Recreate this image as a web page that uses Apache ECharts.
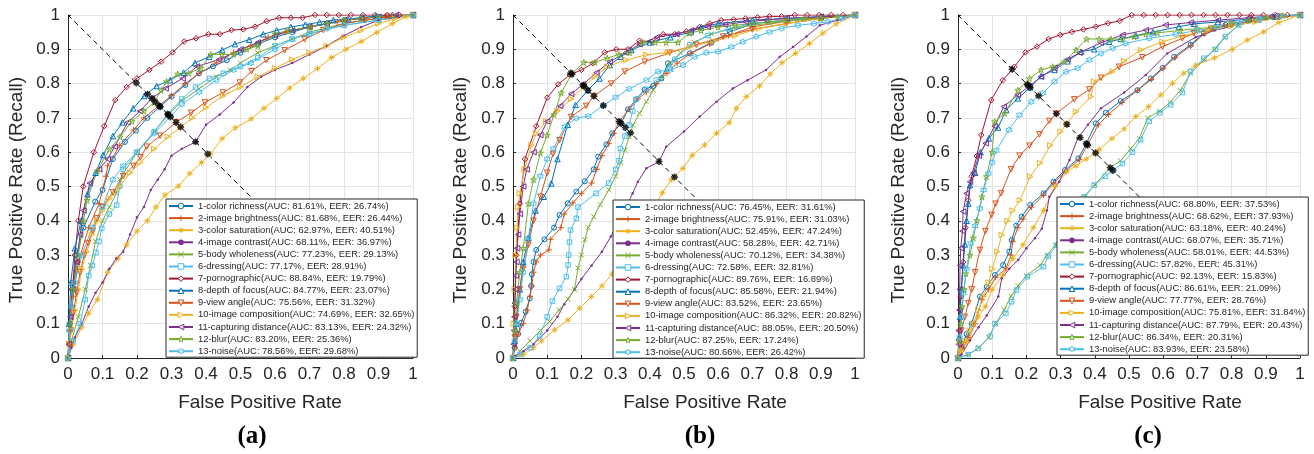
<!DOCTYPE html>
<html><head><meta charset="utf-8">
<script src="https://cdn.jsdelivr.net/npm/echarts@6/dist/echarts.min.js"></script>
<style>html,body{margin:0;padding:0;background:#fff}#c{width:1314px;height:454px}</style>
</head><body><div id="c"></div>
<script>
// ---------- DATA ----------
const featureNames = ['color richness','image brightness','color saturation','image contrast','body wholeness','dressing','pornographic','depth of focus','view angle','image composition','capturing distance','blur','noise'];
const xTicks = [0,0.1,0.2,0.3,0.4,0.5,0.6,0.7,0.8,0.9,1];
const panelLabels = ['(a)','(b)','(c)'];

const aucA = [81.61,81.68,62.97,68.11,77.23,77.17,88.84,84.77,75.56,74.69,83.13,83.20,78.56];
const eerA = [26.74,26.44,40.51,36.97,29.13,28.91,19.79,23.07,31.32,32.65,24.32,25.36,29.68];
const aucB = [76.45,75.91,52.45,58.28,70.12,72.58,89.76,85.58,83.52,86.32,88.05,87.25,80.66];
const eerB = [31.61,31.03,47.24,42.71,34.38,32.81,16.89,21.94,23.65,20.82,20.50,17.24,26.42];
const aucC = [68.80,68.62,63.18,68.07,58.01,57.82,92.13,86.61,77.77,75.81,87.79,86.34,83.93];
const eerC = [37.53,37.93,40.24,35.71,44.53,45.31,15.83,21.09,28.76,31.84,20.43,20.31,23.58];

// Panel (a) ROC points [FPR, TPR]
const a1 = [[0,0],[0.005,0.1],[0.012,0.2],[0.025,0.3],[0.045,0.38],[0.079,0.456],[0.1,0.49],[0.13,0.58],[0.165,0.63],[0.197,0.663],[0.23,0.7],[0.267,0.733],[0.3,0.762],[0.34,0.796],[0.38,0.83],[0.42,0.85],[0.46,0.868],[0.5,0.89],[0.55,0.915],[0.6,0.935],[0.65,0.95],[0.7,0.965],[0.75,0.975],[0.8,0.985],[0.85,0.99],[0.9,0.995],[1,1]];
const a2 = [[0,0],[0.005,0.08],[0.015,0.18],[0.03,0.28],[0.06,0.38],[0.09,0.45],[0.11,0.53],[0.115,0.56],[0.15,0.62],[0.19,0.665],[0.22,0.7],[0.264,0.736],[0.3,0.765],[0.34,0.8],[0.38,0.83],[0.43,0.86],[0.48,0.89],[0.53,0.91],[0.58,0.935],[0.63,0.95],[0.7,0.965],[0.78,0.98],[0.85,0.99],[0.92,0.995],[1,1]];
const a3 = [[0,0],[0.015,0.04],[0.04,0.09],[0.06,0.13],[0.085,0.17],[0.115,0.25],[0.145,0.29],[0.17,0.33],[0.2,0.37],[0.23,0.4],[0.255,0.44],[0.281,0.475],[0.32,0.501],[0.353,0.538],[0.387,0.57],[0.413,0.595],[0.447,0.64],[0.485,0.671],[0.531,0.697],[0.568,0.728],[0.605,0.757],[0.642,0.787],[0.682,0.815],[0.723,0.844],[0.764,0.876],[0.806,0.9],[0.851,0.923],[0.895,0.949],[0.94,0.975],[0.98,0.995],[1,1]];
const a4 = [[0,0],[0.01,0.03],[0.02,0.06],[0.04,0.1],[0.06,0.15],[0.08,0.19],[0.1,0.22],[0.12,0.26],[0.14,0.29],[0.16,0.31],[0.18,0.36],[0.2,0.41],[0.22,0.44],[0.24,0.49],[0.26,0.52],[0.28,0.55],[0.3,0.59],[0.33,0.61],[0.37,0.63],[0.4,0.68],[0.44,0.71],[0.48,0.745],[0.52,0.79],[0.56,0.82],[0.6,0.84],[0.65,0.86],[0.7,0.885],[0.75,0.91],[0.8,0.94],[0.85,0.965],[0.9,0.985],[0.95,0.995],[1,1]];
const a5 = [[0,0],[0.01,0.05],[0.03,0.12],[0.05,0.2],[0.065,0.27],[0.08,0.34],[0.1,0.4],[0.12,0.44],[0.14,0.48],[0.15,0.52],[0.2,0.6],[0.25,0.66],[0.291,0.709],[0.33,0.75],[0.38,0.785],[0.43,0.82],[0.47,0.84],[0.5,0.86],[0.55,0.89],[0.6,0.91],[0.65,0.93],[0.7,0.95],[0.8,0.975],[0.9,0.99],[1,1]];
const a6 = [[0,0],[0.015,0.05],[0.035,0.1],[0.05,0.17],[0.06,0.24],[0.071,0.27],[0.081,0.307],[0.09,0.34],[0.098,0.378],[0.12,0.42],[0.141,0.446],[0.15,0.5],[0.16,0.55],[0.2,0.6],[0.25,0.66],[0.289,0.711],[0.33,0.755],[0.37,0.79],[0.41,0.815],[0.45,0.83],[0.5,0.85],[0.55,0.875],[0.6,0.91],[0.65,0.93],[0.7,0.945],[0.8,0.97],[0.9,0.985],[1,1]];
const a7 = [[0,0],[0.003,0.04],[0.005,0.08],[0.01,0.15],[0.015,0.22],[0.02,0.3],[0.03,0.4],[0.044,0.5],[0.075,0.6],[0.105,0.676],[0.137,0.752],[0.17,0.79],[0.2,0.815],[0.236,0.84],[0.27,0.864],[0.303,0.891],[0.337,0.923],[0.371,0.932],[0.407,0.944],[0.44,0.944],[0.474,0.956],[0.508,0.958],[0.542,0.966],[0.576,0.982],[0.612,0.992],[0.646,0.992],[0.68,0.992],[0.716,1],[0.75,1],[0.785,1],[0.82,1],[0.855,1],[0.89,1],[0.925,1],[0.96,1],[1,1]];
const a8 = [[0,0],[0.003,0.1],[0.008,0.22],[0.02,0.32],[0.038,0.4],[0.056,0.477],[0.08,0.54],[0.102,0.592],[0.13,0.647],[0.158,0.687],[0.189,0.728],[0.221,0.764],[0.257,0.793],[0.296,0.81],[0.335,0.832],[0.368,0.86],[0.409,0.878],[0.447,0.898],[0.484,0.915],[0.525,0.928],[0.566,0.944],[0.605,0.955],[0.646,0.965],[0.688,0.972],[0.729,0.979],[0.769,0.985],[0.812,0.988],[0.853,0.993],[0.893,0.997],[0.94,1],[1,1]];
const a9 = [[0,0],[0.003,0.04],[0.008,0.08],[0.015,0.13],[0.025,0.19],[0.035,0.25],[0.047,0.3],[0.058,0.335],[0.072,0.37],[0.084,0.407],[0.1,0.44],[0.13,0.483],[0.16,0.53],[0.19,0.56],[0.21,0.585],[0.228,0.616],[0.267,0.648],[0.313,0.687],[0.357,0.715],[0.397,0.745],[0.449,0.774],[0.498,0.803],[0.532,0.836],[0.575,0.868],[0.628,0.897],[0.686,0.929],[0.74,0.956],[0.8,0.975],[0.86,0.985],[0.93,0.995],[1,1]];
const a10 = [[0,0],[0.005,0.04],[0.01,0.08],[0.02,0.14],[0.03,0.2],[0.04,0.26],[0.055,0.31],[0.07,0.36],[0.085,0.4],[0.1,0.43],[0.12,0.465],[0.15,0.5],[0.18,0.54],[0.21,0.57],[0.25,0.61],[0.29,0.645],[0.327,0.673],[0.36,0.7],[0.4,0.73],[0.45,0.765],[0.5,0.79],[0.55,0.82],[0.6,0.845],[0.65,0.87],[0.7,0.89],[0.75,0.91],[0.8,0.935],[0.85,0.955],[0.9,0.975],[0.95,0.99],[1,1]];
const a11 = [[0,0],[0.003,0.04],[0.007,0.12],[0.015,0.2],[0.025,0.28],[0.035,0.36],[0.045,0.43],[0.063,0.51],[0.09,0.55],[0.115,0.58],[0.135,0.616],[0.173,0.687],[0.209,0.72],[0.243,0.757],[0.283,0.786],[0.332,0.815],[0.374,0.85],[0.438,0.87],[0.5,0.9],[0.55,0.92],[0.6,0.94],[0.65,0.955],[0.7,0.965],[0.75,0.975],[0.8,0.985],[0.85,0.99],[0.9,0.995],[0.95,1],[1,1]];
const a12 = [[0,0],[0.005,0.1],[0.015,0.2],[0.03,0.3],[0.045,0.4],[0.055,0.46],[0.085,0.546],[0.12,0.608],[0.151,0.645],[0.185,0.69],[0.22,0.72],[0.25,0.745],[0.27,0.78],[0.286,0.806],[0.318,0.828],[0.35,0.83],[0.385,0.845],[0.414,0.885],[0.446,0.885],[0.48,0.885],[0.518,0.9],[0.55,0.91],[0.6,0.945],[0.64,0.955],[0.7,0.965],[0.75,0.975],[0.8,0.985],[0.85,0.99],[0.9,0.995],[1,1]];
const a13 = [[0,0],[0.005,0.08],[0.01,0.15],[0.02,0.22],[0.04,0.3],[0.07,0.38],[0.1,0.44],[0.13,0.52],[0.16,0.56],[0.2,0.6],[0.25,0.655],[0.297,0.703],[0.33,0.74],[0.38,0.775],[0.43,0.81],[0.48,0.84],[0.53,0.86],[0.6,0.9],[0.65,0.93],[0.7,0.945],[0.75,0.96],[0.8,0.97],[0.9,0.985],[1,1]];

// Panel (b)
const b1 = [[0,0],[0.005,0.03],[0.015,0.07],[0.024,0.103],[0.037,0.135],[0.049,0.174],[0.053,0.21],[0.055,0.244],[0.06,0.28],[0.068,0.315],[0.092,0.346],[0.12,0.38],[0.136,0.417],[0.16,0.451],[0.185,0.485],[0.21,0.515],[0.236,0.55],[0.249,0.587],[0.273,0.623],[0.29,0.655],[0.316,0.684],[0.336,0.725],[0.36,0.754],[0.385,0.783],[0.41,0.793],[0.434,0.815],[0.453,0.859],[0.517,0.888],[0.58,0.919],[0.634,0.951],[0.702,0.975],[0.8,0.985],[0.9,0.993],[1,1]];
const b2 = [[0,0],[0.005,0.03],[0.015,0.07],[0.03,0.1],[0.042,0.14],[0.05,0.18],[0.055,0.21],[0.06,0.25],[0.068,0.28],[0.08,0.3],[0.105,0.315],[0.11,0.346],[0.14,0.38],[0.15,0.42],[0.175,0.452],[0.2,0.48],[0.23,0.51],[0.245,0.55],[0.26,0.59],[0.28,0.625],[0.295,0.655],[0.31,0.69],[0.34,0.725],[0.365,0.755],[0.39,0.775],[0.42,0.8],[0.45,0.83],[0.48,0.86],[0.52,0.888],[0.575,0.915],[0.63,0.94],[0.7,0.965],[0.8,0.982],[0.9,0.993],[1,1]];
const b3 = [[0,0],[0.03,0.01],[0.06,0.03],[0.083,0.05],[0.122,0.082],[0.161,0.111],[0.195,0.145],[0.229,0.179],[0.26,0.21],[0.29,0.245],[0.32,0.29],[0.345,0.33],[0.37,0.37],[0.395,0.41],[0.415,0.445],[0.437,0.482],[0.463,0.52],[0.497,0.553],[0.524,0.591],[0.56,0.621],[0.595,0.655],[0.632,0.686],[0.653,0.728],[0.682,0.762],[0.721,0.793],[0.752,0.828],[0.787,0.861],[0.826,0.888],[0.867,0.917],[0.906,0.947],[0.945,0.974],[1,1]];
const b4 = [[0,0],[0.03,0.02],[0.06,0.04],[0.1,0.08],[0.13,0.12],[0.15,0.157],[0.18,0.2],[0.2,0.23],[0.23,0.27],[0.26,0.31],[0.286,0.354],[0.31,0.4],[0.33,0.44],[0.35,0.48],[0.365,0.514],[0.39,0.553],[0.427,0.573],[0.448,0.616],[0.5,0.66],[0.546,0.704],[0.595,0.747],[0.643,0.786],[0.686,0.81],[0.74,0.84],[0.78,0.878],[0.819,0.907],[0.858,0.937],[0.897,0.97],[0.95,0.985],[1,1]];
const b5 = [[0,0],[0.02,0.02],[0.05,0.05],[0.08,0.08],[0.107,0.106],[0.135,0.14],[0.161,0.172],[0.18,0.2],[0.19,0.263],[0.2,0.3],[0.21,0.345],[0.22,0.38],[0.236,0.412],[0.255,0.447],[0.28,0.49],[0.3,0.53],[0.315,0.57],[0.327,0.606],[0.34,0.645],[0.351,0.679],[0.37,0.713],[0.39,0.747],[0.41,0.781],[0.434,0.815],[0.46,0.86],[0.49,0.89],[0.53,0.92],[0.58,0.945],[0.64,0.96],[0.7,0.97],[0.8,0.982],[0.9,0.99],[1,1]];
const b6 = [[0,0],[0.02,0.01],[0.05,0.03],[0.078,0.064],[0.1,0.12],[0.115,0.166],[0.136,0.203],[0.156,0.237],[0.161,0.271],[0.163,0.3],[0.165,0.338],[0.168,0.373],[0.185,0.407],[0.19,0.44],[0.243,0.48],[0.28,0.51],[0.3,0.55],[0.31,0.575],[0.314,0.611],[0.327,0.647],[0.339,0.679],[0.35,0.72],[0.36,0.754],[0.39,0.783],[0.419,0.81],[0.458,0.845],[0.473,0.871],[0.517,0.913],[0.57,0.94],[0.63,0.96],[0.7,0.975],[0.8,0.985],[0.9,0.993],[1,1]];
const b7 = [[0,0],[0.005,0.15],[0.01,0.3],[0.02,0.45],[0.035,0.58],[0.068,0.676],[0.1,0.759],[0.132,0.798],[0.166,0.825],[0.2,0.84],[0.234,0.859],[0.268,0.891],[0.302,0.9],[0.336,0.9],[0.37,0.925],[0.406,0.922],[0.439,0.944],[0.473,0.944],[0.507,0.952],[0.545,0.965],[0.575,0.975],[0.609,0.985],[0.645,0.987],[0.68,0.99],[0.715,0.993],[0.75,0.996],[0.785,0.996],[0.824,1],[0.86,1],[0.895,1],[0.93,1],[0.965,1],[1,1]];
const b8 = [[0,0],[0.005,0.05],[0.01,0.1],[0.02,0.2],[0.03,0.28],[0.045,0.35],[0.066,0.43],[0.09,0.47],[0.112,0.509],[0.13,0.58],[0.16,0.68],[0.183,0.738],[0.219,0.781],[0.253,0.815],[0.283,0.854],[0.315,0.878],[0.346,0.898],[0.4,0.92],[0.46,0.935],[0.52,0.95],[0.55,0.965],[0.6,0.975],[0.7,0.985],[0.8,0.99],[0.9,0.995],[1,1]];
const b9 = [[0,0],[0.005,0.06],[0.01,0.12],[0.02,0.2],[0.03,0.26],[0.045,0.33],[0.06,0.4],[0.08,0.47],[0.1,0.54],[0.117,0.595],[0.136,0.635],[0.17,0.703],[0.214,0.735],[0.2365,0.7635],[0.287,0.8],[0.327,0.835],[0.385,0.864],[0.458,0.89],[0.536,0.913],[0.614,0.937],[0.7,0.958],[0.8,0.975],[0.9,0.99],[1,1]];
const b10 = [[0,0],[0.002,0.1],[0.005,0.2],[0.008,0.3],[0.012,0.38],[0.015,0.44],[0.02,0.48],[0.034,0.55],[0.054,0.62],[0.068,0.655],[0.097,0.69],[0.13,0.72],[0.17,0.755],[0.208,0.792],[0.24,0.82],[0.275,0.849],[0.331,0.869],[0.39,0.884],[0.453,0.891],[0.517,0.907],[0.585,0.924],[0.65,0.94],[0.72,0.961],[0.8,0.975],[0.9,0.99],[1,1]];
const b11 = [[0,0],[0.002,0.04],[0.003,0.08],[0.004,0.12],[0.005,0.16],[0.007,0.2],[0.008,0.24],[0.01,0.28],[0.012,0.32],[0.015,0.36],[0.02,0.42],[0.03,0.5],[0.04,0.55],[0.06,0.6],[0.08,0.65],[0.1,0.69],[0.138,0.735],[0.17,0.77],[0.205,0.798],[0.244,0.832],[0.283,0.864],[0.33,0.89],[0.37,0.915],[0.42,0.935],[0.478,0.944],[0.52,0.955],[0.57,0.965],[0.62,0.972],[0.68,0.98],[0.74,0.985],[0.8,0.99],[0.9,0.995],[1,1]];
const b12 = [[0,0],[0.005,0.08],[0.01,0.16],[0.02,0.25],[0.03,0.32],[0.045,0.45],[0.06,0.52],[0.08,0.598],[0.1,0.65],[0.12,0.71],[0.141,0.773],[0.172,0.828],[0.207,0.862],[0.239,0.862],[0.275,0.874],[0.31,0.885],[0.341,0.89],[0.38,0.92],[0.416,0.92],[0.448,0.92],[0.482,0.92],[0.516,0.947],[0.55,0.955],[0.6,0.965],[0.65,0.97],[0.7,0.975],[0.75,0.98],[0.8,0.985],[0.85,0.99],[0.9,0.99],[0.95,0.995],[1,1]];
const b13 = [[0,0],[0.005,0.05],[0.01,0.1],[0.02,0.17],[0.03,0.25],[0.045,0.35],[0.06,0.45],[0.08,0.53],[0.1,0.58],[0.118,0.61],[0.151,0.674],[0.185,0.699],[0.22,0.705],[0.264,0.736],[0.3,0.76],[0.34,0.785],[0.39,0.81],[0.424,0.835],[0.46,0.84],[0.497,0.854],[0.531,0.878],[0.565,0.89],[0.6,0.893],[0.638,0.907],[0.672,0.922],[0.711,0.937],[0.75,0.95],[0.785,0.961],[0.833,0.97],[0.88,0.975],[0.92,0.98],[0.96,0.99],[1,1]];

// Panel (c)
const c1 = [[0,0],[0.01,0.03],[0.025,0.07],[0.04,0.1],[0.064,0.179],[0.084,0.208],[0.108,0.242],[0.132,0.271],[0.15,0.31],[0.157,0.344],[0.17,0.386],[0.186,0.412],[0.211,0.446],[0.25,0.48],[0.279,0.514],[0.313,0.548],[0.352,0.582],[0.375,0.625],[0.403,0.684],[0.432,0.715],[0.476,0.749],[0.525,0.781],[0.564,0.815],[0.598,0.846],[0.632,0.878],[0.68,0.913],[0.719,0.947],[0.782,0.971],[0.85,0.985],[0.92,0.995],[1,1]];
const c2 = [[0,0],[0.015,0.03],[0.03,0.06],[0.05,0.1],[0.07,0.17],[0.09,0.2],[0.11,0.235],[0.14,0.26],[0.155,0.3],[0.16,0.34],[0.175,0.38],[0.19,0.405],[0.215,0.44],[0.25,0.475],[0.28,0.51],[0.315,0.545],[0.355,0.578],[0.379,0.621],[0.41,0.68],[0.44,0.71],[0.48,0.745],[0.525,0.78],[0.565,0.812],[0.6,0.845],[0.635,0.876],[0.68,0.91],[0.72,0.945],[0.78,0.97],[0.85,0.985],[0.92,0.995],[1,1]];
const c3 = [[0,0],[0.01,0.02],[0.03,0.05],[0.059,0.12],[0.08,0.15],[0.1,0.2],[0.13,0.24],[0.16,0.29],[0.19,0.33],[0.22,0.38],[0.25,0.43],[0.284,0.5],[0.318,0.543],[0.345,0.56],[0.375,0.58],[0.402,0.598],[0.413,0.608],[0.45,0.64],[0.486,0.668],[0.52,0.704],[0.557,0.733],[0.593,0.767],[0.627,0.801],[0.66,0.83],[0.695,0.854],[0.75,0.875],[0.802,0.9],[0.846,0.927],[0.894,0.951],[0.938,0.978],[1,1]];
const c4 = [[0,0],[0.01,0.01],[0.035,0.052],[0.06,0.09],[0.084,0.124],[0.118,0.179],[0.128,0.232],[0.15,0.26],[0.176,0.286],[0.2,0.32],[0.225,0.349],[0.245,0.377],[0.26,0.43],[0.267,0.47],[0.296,0.514],[0.326,0.577],[0.35,0.64],[0.38,0.68],[0.418,0.728],[0.486,0.774],[0.549,0.825],[0.612,0.888],[0.695,0.935],[0.75,0.955],[0.82,0.972],[0.9,0.988],[1,1]];
const c5 = [[0,0],[0.03,0.01],[0.06,0.03],[0.09,0.06],[0.11,0.1],[0.135,0.14],[0.155,0.18],[0.175,0.21],[0.2,0.24],[0.24,0.27],[0.26,0.3],[0.285,0.33],[0.305,0.37],[0.325,0.41],[0.345,0.44],[0.37,0.47],[0.4,0.505],[0.445,0.555],[0.475,0.575],[0.505,0.61],[0.53,0.64],[0.555,0.7],[0.59,0.72],[0.62,0.745],[0.65,0.78],[0.68,0.83],[0.72,0.87],[0.75,0.9],[0.78,0.935],[0.82,0.97],[0.88,0.985],[0.94,0.995],[1,1]];
const c6 = [[0,0],[0.03,0.01],[0.059,0.028],[0.094,0.064],[0.108,0.1],[0.14,0.13],[0.157,0.164],[0.171,0.198],[0.203,0.237],[0.25,0.266],[0.264,0.297],[0.289,0.329],[0.31,0.37],[0.33,0.41],[0.35,0.44],[0.369,0.47],[0.398,0.504],[0.43,0.53],[0.453,0.547],[0.481,0.567],[0.51,0.6],[0.534,0.636],[0.559,0.69],[0.59,0.715],[0.622,0.738],[0.656,0.774],[0.68,0.835],[0.719,0.874],[0.753,0.9],[0.782,0.937],[0.821,0.971],[0.88,0.985],[0.94,0.995],[1,1]];
const c7 = [[0,0],[0.003,0.08],[0.008,0.18],[0.015,0.28],[0.022,0.38],[0.03,0.46],[0.04,0.53],[0.055,0.589],[0.068,0.65],[0.097,0.752],[0.131,0.81],[0.165,0.849],[0.197,0.891],[0.231,0.908],[0.265,0.93],[0.299,0.942],[0.333,0.951],[0.367,0.958],[0.403,0.966],[0.438,0.976],[0.473,0.983],[0.508,1],[0.543,1],[0.578,1],[0.613,1],[0.648,1],[0.683,1],[0.718,1],[0.753,1],[0.788,1],[0.823,1],[0.858,1],[0.893,1],[0.928,1],[0.963,1],[1,1]];
const c8 = [[0,0],[0.003,0.06],[0.006,0.12],[0.01,0.2],[0.015,0.27],[0.02,0.331],[0.025,0.4],[0.03,0.45],[0.035,0.504],[0.05,0.54],[0.066,0.6],[0.09,0.64],[0.117,0.672],[0.141,0.723],[0.175,0.757],[0.211,0.789],[0.243,0.822],[0.282,0.84],[0.32,0.865],[0.36,0.893],[0.398,0.9],[0.442,0.922],[0.476,0.93],[0.52,0.94],[0.57,0.95],[0.646,0.966],[0.69,0.974],[0.76,0.98],[0.85,0.988],[0.93,0.995],[1,1]];
const c9 = [[0,0],[0.005,0.04],[0.01,0.08],[0.02,0.12],[0.03,0.16],[0.04,0.2],[0.05,0.25],[0.064,0.315],[0.08,0.37],[0.098,0.417],[0.11,0.45],[0.126,0.48],[0.155,0.55],[0.18,0.59],[0.209,0.619],[0.238,0.652],[0.267,0.691],[0.2876,0.7124],[0.34,0.754],[0.384,0.783],[0.418,0.817],[0.471,0.849],[0.539,0.877],[0.598,0.908],[0.656,0.932],[0.69,0.947],[0.74,0.96],[0.8,0.972],[0.87,0.985],[0.94,0.995],[1,1]];
const c10 = [[0,0],[0.01,0.02],[0.02,0.05],[0.035,0.08],[0.045,0.1],[0.06,0.14],[0.075,0.18],[0.09,0.22],[0.1,0.26],[0.115,0.31],[0.128,0.359],[0.145,0.4],[0.16,0.43],[0.181,0.46],[0.211,0.529],[0.24,0.568],[0.27,0.62],[0.3,0.66],[0.318,0.682],[0.345,0.718],[0.389,0.762],[0.398,0.806],[0.452,0.835],[0.486,0.866],[0.535,0.898],[0.598,0.922],[0.66,0.94],[0.73,0.955],[0.8,0.968],[0.87,0.98],[0.94,0.993],[1,1]];
const c11 = [[0,0],[0.002,0.04],[0.003,0.08],[0.004,0.14],[0.005,0.2],[0.006,0.27],[0.008,0.32],[0.013,0.37],[0.015,0.427],[0.025,0.48],[0.035,0.514],[0.045,0.54],[0.061,0.59],[0.081,0.626],[0.107,0.676],[0.134,0.733],[0.175,0.767],[0.209,0.793],[0.243,0.82],[0.282,0.845],[0.32,0.87],[0.355,0.89],[0.418,0.919],[0.481,0.942],[0.549,0.956],[0.607,0.971],[0.68,0.978],[0.76,0.985],[0.85,0.992],[0.93,0.997],[1,1]];
const c12 = [[0,0],[0.003,0.05],[0.008,0.1],[0.012,0.15],[0.018,0.2],[0.023,0.246],[0.035,0.3],[0.045,0.35],[0.055,0.401],[0.07,0.47],[0.083,0.529],[0.1,0.6],[0.107,0.689],[0.136,0.713],[0.175,0.781],[0.209,0.815],[0.243,0.84],[0.277,0.849],[0.311,0.864],[0.345,0.898],[0.376,0.93],[0.413,0.93],[0.447,0.93],[0.481,0.93],[0.515,0.937],[0.549,0.944],[0.583,0.948],[0.65,0.955],[0.7,0.96],[0.75,0.965],[0.8,0.975],[0.85,0.985],[0.9,0.993],[0.95,0.998],[1,1]];
const c13 = [[0,0],[0.005,0.06],[0.01,0.12],[0.016,0.189],[0.025,0.26],[0.037,0.334],[0.05,0.385],[0.064,0.436],[0.075,0.49],[0.089,0.538],[0.1,0.57],[0.112,0.605],[0.149,0.665],[0.18,0.708],[0.214,0.747],[0.248,0.772],[0.282,0.806],[0.316,0.835],[0.35,0.845],[0.384,0.869],[0.418,0.888],[0.452,0.903],[0.49,0.917],[0.559,0.932],[0.637,0.944],[0.7,0.955],[0.76,0.965],[0.82,0.978],[0.88,0.99],[0.94,0.997],[1,1]];

const diagonal = [[0,1],[1,0]];

// ---------- STYLE / BUILD ----------
const curvesA = [a1,a2,a3,a4,a5,a6,a7,a8,a9,a10,a11,a12,a13];
const curvesB = [b1,b2,b3,b4,b5,b6,b7,b8,b9,b10,b11,b12,b13];
const curvesC = [c1,c2,c3,c4,c5,c6,c7,c8,c9,c10,c11,c12,c13];
const panels = [
  {curves: curvesA, auc: aucA, eer: eerA},
  {curves: curvesB, auc: aucB, eer: eerB},
  {curves: curvesC, auc: aucC, eer: eerC}
];
const colors = ['#0072BD','#D95319','#EDB120','#7E2F8E','#77AC30','#4DBEEE','#A2142F','#0072BD','#D95319','#EDB120','#7E2F8E','#77AC30','#4DBEEE'];
const P = {
  circle: 'circle',
  plus: 'path://M5,0L5,10M0,5L10,5',
  star: 'path://M5,0L5,10M0,5L10,5M1.6,1.6L8.4,8.4M8.4,1.6L1.6,8.4',
  dot: 'circle',
  x: 'path://M0,0L10,10M10,0L0,10',
  square: 'path://M0,0L10,0L10,10L0,10Z',
  diamond: 'path://M5,0L10,5L5,10L0,5Z',
  up: 'path://M5,0L10,10L0,10Z',
  down: 'path://M0,0L10,0L5,10Z',
  right: 'path://M0,0L10,5L0,10Z',
  left: 'path://M10,0L0,5L10,10Z',
  penta: 'path://M5,0L6.12,3.46L9.76,3.45L6.81,5.59L7.94,9.05L5,6.9L2.06,9.05L3.19,5.59L0.24,3.45L3.88,3.46Z',
  hexa: 'path://M5,0L6.44,2.5L9.33,2.5L7.89,5L9.33,7.5L6.44,7.5L5,10L3.56,7.5L0.67,7.5L2.11,5L0.67,2.5L3.56,2.5Z'
};
const symbols = [P.circle,P.plus,P.star,P.dot,P.x,P.square,P.diamond,P.up,P.down,P.right,P.left,P.penta,P.hexa];
const sizes = [5,6,6,2.5,5,4.5,5.5,5.5,5.5,5.5,5.5,6,6];
const grids = [
  {left:68, top:15, width:345, height:343},
  {left:513, top:15, width:342, height:343},
  {left:958, top:15, width:342, height:343}
];
const legendPos = [{left:166, top:199}, {left:613, top:200}, {left:1057, top:197}];
const yTitleX = [17, 461, 899];
const xTitleX = [260, 705, 1160];
const labelX = [252, 700, 1148];
const FONT = "'Liberation Sans', Arial, Helvetica, sans-serif";
const AX = '#262626';

const xAxes = [], yAxes = [], series = [], legends = [], graphics = [];
panels.forEach((p, gi) => {
  const axisCommon = {
    type: 'value', gridIndex: gi, min: xTicks[0], max: xTicks[xTicks.length-1], interval: 0.1,
    axisLine: {show: true, lineStyle: {color: AX, width: 1}},
    axisTick: {show: true, inside: true, length: 3, lineStyle: {color: AX}},
    splitLine: {show: true, lineStyle: {color: '#e4e4e4', width: 1}},
    axisLabel: {fontSize: 17, color: AX, fontFamily: FONT, margin: 8}
  };
  xAxes.push(Object.assign({}, axisCommon));
  yAxes.push(Object.assign({}, axisCommon));

  series.push({
    type: 'line', xAxisIndex: gi, yAxisIndex: gi, data: diagonal, symbol: 'none', silent: true,
    lineStyle: {color: '#000', width: 1, type: [5,4]}, z: 1, animation: false
  });
  const names = [];
  p.curves.forEach((d, i) => {
    const nm = (i+1) + '-' + featureNames[i] + '(AUC: ' + p.auc[i].toFixed(2) + '%, EER: ' + p.eer[i].toFixed(2) + '%)';
    const isDot = i === 3;
    names.push({name: nm, itemStyle: isDot ? {color: colors[i]} : {color: '#fff', borderColor: colors[i], borderWidth: 1}});
    series.push({
      name: nm, type: 'line', xAxisIndex: gi, yAxisIndex: gi, data: d,
      symbol: symbols[i], symbolSize: sizes[i], showAllSymbol: true,
      color: colors[i],
      lineStyle: {color: colors[i], width: 1},
      itemStyle: isDot ? {color: colors[i], borderWidth: 0} : {color: 'rgba(255,255,255,0)', borderColor: colors[i], borderWidth: 1},
      z: 2, animation: false
    });
  });
  series.push({
    type: 'scatter', xAxisIndex: gi, yAxisIndex: gi, silent: true,
    data: p.eer.map(e => [e/100, 1 - e/100]),
    symbol: P.star, symbolSize: 7,
    itemStyle: {color: 'rgba(0,0,0,0)', borderColor: '#000', borderWidth: 1.6},
    z: 3, animation: false
  });
  legends.push({
    data: names, orient: 'vertical', left: legendPos[gi].left, top: legendPos[gi].top,
    itemWidth: 24, itemHeight: 7, itemGap: 2.1, padding: [2, 3, 1, 2],
    backgroundColor: '#fff', borderColor: AX, borderWidth: 1, borderRadius: 0,
    selectedMode: false,
    textStyle: {fontSize: 9.4, fontFamily: FONT, color: AX, lineHeight: 10}
  });
  graphics.push({type: 'text', x: yTitleX[gi], y: 190, rotation: Math.PI/2,
    style: {text: 'True Positive Rate (Recall)', x: 0, y: 0, textAlign: 'center', textVerticalAlign: 'middle', fill: AX, font: '19px ' + FONT}});
  graphics.push({type: 'text', x: xTitleX[gi], y: 403,
    style: {text: 'False Positive Rate', x: 0, y: 0, textAlign: 'center', textVerticalAlign: 'middle', fill: AX, font: '19px ' + FONT}});
  graphics.push({type: 'text', x: labelX[gi], y: 437,
    style: {text: panelLabels[gi], x: 0, y: 0, textAlign: 'center', textVerticalAlign: 'middle', fill: '#000', font: 'bold 25px "Liberation Serif", "Times New Roman", serif'}});
});

const chart = echarts.init(document.getElementById('c'), null, {renderer: 'canvas'});
chart.setOption({
  animation: false,
  backgroundColor: '#fff',
  grid: grids,
  xAxis: xAxes,
  yAxis: yAxes,
  legend: legends,
  series: series,
  graphic: graphics
});
</script></body></html>
